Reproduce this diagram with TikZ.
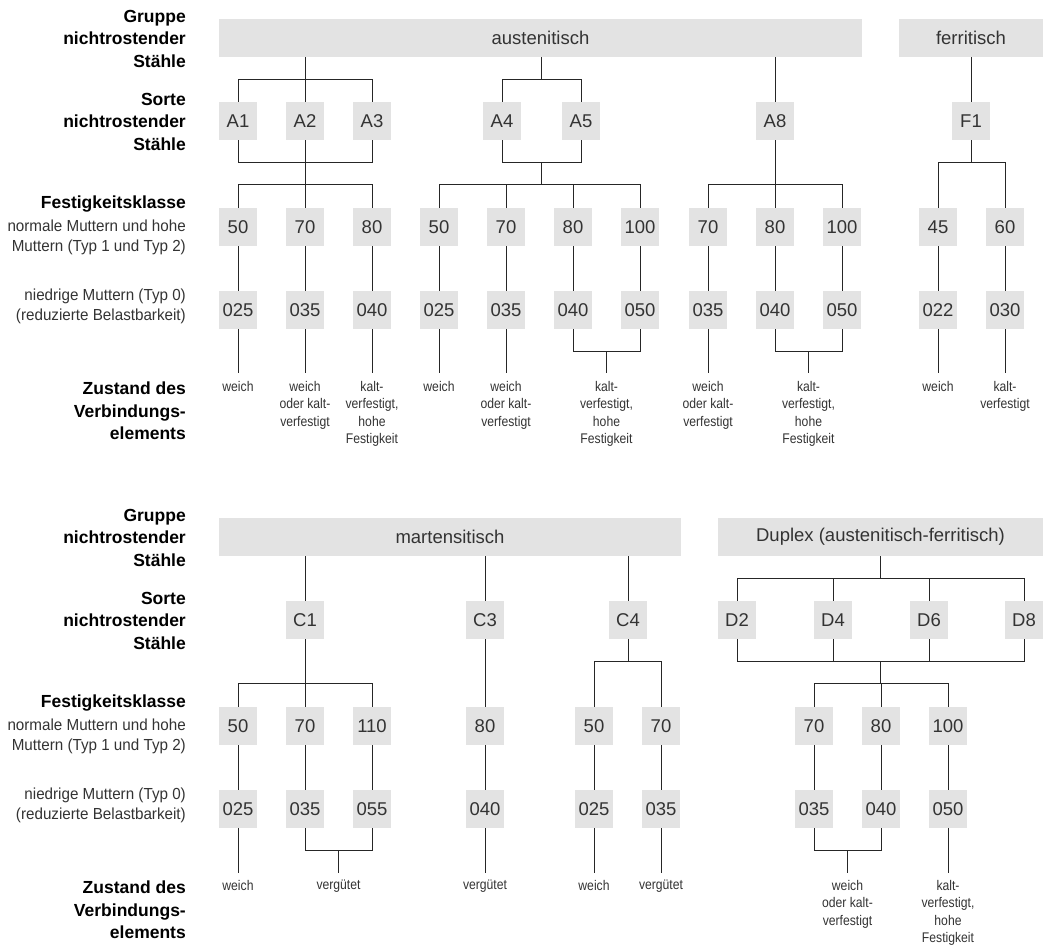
\documentclass[tikz,border=0pt]{standalone}
\usepackage{fontspec}
\setmainfont{Liberation Sans}
\newfontfamily\condfont{Liberation Sans}[FakeStretch=0.87]
\newfontfamily\subfont{Liberation Sans}[FakeStretch=0.95]
\usetikzlibrary{calc}
\definecolor{boxgray}{HTML}{E3E3E3}
\definecolor{txt}{HTML}{333333}
\tikzset{
  box/.style={fill=boxgray, minimum width=38pt, minimum height=38pt, inner sep=0pt,
    font=\fontsize{18.5}{22}\selectfont, text=txt},
  bar/.style={fill=boxgray, minimum height=38pt, inner sep=0pt,
    font=\fontsize{18.5}{22}\selectfont, text=txt},
  state/.style={anchor=north, align=center, inner sep=0pt,
    font=\condfont\fontsize{14}{17.5}\selectfont, text=txt},
  hdr/.style={anchor=north east, align=right, inner sep=0pt,
    font=\bfseries\fontsize{17.5}{22.5}\selectfont, text=black},
  sub/.style={anchor=north east, align=right, inner sep=0pt,
    font=\subfont\fontsize{16}{20}\selectfont, text=txt},
  conn/.style={line width=0.8pt, draw=black!85}
}
\begin{document}
\begin{tikzpicture}[x=1pt,y=-1pt]
\useasboundingbox (0,0) rectangle (1043,947);
% ---------- left labels ----------
\foreach \o/\s in {0/t,499/b}{
  \node[hdr] (lg\s) at (186,10+\o) {Gruppe\\nichtrostender\\Stähle};
  \node[hdr] (ls\s) at (186,93+\o) {Sorte\\nichtrostender\\Stähle};
  \node[hdr] (lf\s) at (186,196+\o) {Festigkeitsklasse};
  \node[sub] (ln\s) at (186,220+\o) {normale Muttern und hohe\\Muttern (Typ 1 und Typ 2)};
  \node[sub] (ll\s) at (186,289+\o) {niedrige Muttern (Typ 0)\\(reduzierte Belastbarkeit)};
  \node[hdr] (lz\s) at (186,382+\o) {Zustand des\\Verbindungs-\\elements};
}
% ---------- top section ----------
\node[bar, minimum width=643pt] (aus) at (540.5,38) {austenitisch};
\node[bar, minimum width=144pt] (fer) at (971,38) {ferritisch};
\foreach \n/\x in {A1/238,A2/305,A3/372,A4/502,A5/581,A8/775,F1/971}
  \node[box] (\n) at (\x,121) {\n};
\foreach \n/\x/\t in {a50/238/50,a70/305/70,a80/372/80,b50/439/50,b70/506/70,b80/573/80,b100/640/100,
  c70/708/70,c80/775/80,c100/842/100,f45/938/45,f60/1005/60}
  \node[box] (\n) at (\x,227) {\t};
\foreach \n/\x/\t in {p50/238/025,p70/305/035,p80/372/040,q50/439/025,q70/506/035,q80/573/040,q100/640/050,
  r70/708/035,r80/775/040,r100/842/050,s45/938/022,s60/1005/030}
  \node[box] (\n) at (\x,310) {\t};
\coordinate (j45) at ($(A4)!0.5!(A5)$);
% group -> sorte
\draw[conn] (A2|-aus.south) -- (A2.north);
\draw[conn] (A1.north) -- (A1|-0,79) -- (A3|-0,79) -- (A3.north);
\draw[conn] (j45|-aus.south) -- (j45|-0,79);
\draw[conn] (A4.north) -- (A4|-0,79) -- (A5|-0,79) -- (A5.north);
\draw[conn] (A8|-aus.south) -- (A8.north);
\draw[conn] (fer.south) -- (F1.north);
% sorte -> festigkeit
\draw[conn] (A1.south) -- (A1|-0,162) -- (A3|-0,162) -- (A3.south);
\draw[conn] (A2.south) -- (a70.north);
\draw[conn] (a50.north) -- (a50|-0,184) -- (a80|-0,184) -- (a80.north);
\draw[conn] (A4.south) -- (A4|-0,162) -- (A5|-0,162) -- (A5.south);
\draw[conn] (j45|-0,162) -- (j45|-0,184);
\draw[conn] (b50.north) -- (b50|-0,184) -- (b100|-0,184) -- (b100.north);
\draw[conn] (b70.north) -- (b70|-0,184);
\draw[conn] (b80.north) -- (b80|-0,184);
\draw[conn] (A8.south) -- (c80.north);
\draw[conn] (c70.north) -- (c70|-0,184) -- (c100|-0,184) -- (c100.north);
\draw[conn] (F1.south) -- (F1|-0,162);
\draw[conn] (f45.north) -- (f45|-0,162) -- (f60|-0,162) -- (f60.north);
% festigkeit -> niedrige
\foreach \a/\b in {a50/p50,a70/p70,a80/p80,b50/q50,b70/q70,b80/q80,b100/q100,c70/r70,c80/r80,c100/r100,f45/s45,f60/s60}
  \draw[conn] (\a.south) -- (\b.north);
% niedrige -> zustand
\coordinate (jq) at ($(q80)!0.5!(q100)$);
\coordinate (jr) at ($(r80)!0.5!(r100)$);
\foreach \n in {p50,p70,p80,q50,q70,r70,s45,s60}
  \draw[conn] (\n.south) -- (\n|-0,373);
\draw[conn] (q80.south) -- (q80|-0,351) -- (q100|-0,351) -- (q100.south);
\draw[conn] (jq|-0,351) -- (jq|-0,373);
\draw[conn] (r80.south) -- (r80|-0,351) -- (r100|-0,351) -- (r100.south);
\draw[conn] (jr|-0,351) -- (jr|-0,373);
\node[state] (z1) at (p50|-0,381) {weich};
\node[state] (z2) at (p70|-0,381) {weich\\oder kalt-\\verfestigt};
\node[state] (z3) at (p80|-0,381) {kalt-\\verfestigt,\\hohe\\Festigkeit};
\node[state] (z4) at (q50|-0,381) {weich};
\node[state] (z5) at (q70|-0,381) {weich\\oder kalt-\\verfestigt};
\node[state] (z6) at (jq|-0,381) {kalt-\\verfestigt,\\hohe\\Festigkeit};
\node[state] (z7) at (r70|-0,381) {weich\\oder kalt-\\verfestigt};
\node[state] (z8) at (jr|-0,381) {kalt-\\verfestigt,\\hohe\\Festigkeit};
\node[state] (z9) at (s45|-0,381) {weich};
\node[state] (z10) at (s60|-0,381) {kalt-\\verfestigt};
% ---------- bottom section ----------
\node[bar, minimum width=462pt] (mar) at (450,537) {martensitisch};
\node[bar, minimum width=325pt] (dup) at (880.5,537) {Duplex (austenitisch-ferritisch)};
\foreach \n/\x in {C1/305,C3/485,C4/628,D2/737,D4/833,D6/929,D8/1024}
  \node[box] (\n) at (\x,620) {\n};
\foreach \n/\x/\t in {m50/238/50,m70/305/70,m110/372/110,m80/485/80,n50/594/50,n70/661/70,
  d70/814/70,d80/881/80,d100/948/100}
  \node[box] (\n) at (\x,726) {\t};
\foreach \n/\x/\t in {k50/238/025,k70/305/035,k110/372/055,k80/485/040,o50/594/025,o70/661/035,
  e70/814/035,e80/881/040,e100/948/050}
  \node[box] (\n) at (\x,809) {\t};
% group -> sorte
\draw[conn] (C1|-mar.south) -- (C1.north);
\draw[conn] (C3|-mar.south) -- (C3.north);
\draw[conn] (C4|-mar.south) -- (C4.north);
\draw[conn] (dup.south) -- (dup|-0,578);
\draw[conn] (D2.north) -- (D2|-0,578) -- (D8|-0,578) -- (D8.north);
\draw[conn] (D4.north) -- (D4|-0,578);
\draw[conn] (D6.north) -- (D6|-0,578);
% sorte -> festigkeit
\draw[conn] (C1.south) -- (m70.north);
\draw[conn] (m50.north) -- (m50|-0,683) -- (m110|-0,683) -- (m110.north);
\draw[conn] (C3.south) -- (m80.north);
\draw[conn] (C4.south) -- (C4|-0,661);
\draw[conn] (n50.north) -- (n50|-0,661) -- (n70|-0,661) -- (n70.north);
\draw[conn] (D2.south) -- (D2|-0,661) -- (D8|-0,661) -- (D8.south);
\draw[conn] (D4.south) -- (D4|-0,661);
\draw[conn] (D6.south) -- (D6|-0,661);
\draw[conn] (dup|-0,661) -- (dup|-0,683);
\draw[conn] (d70.north) -- (d70|-0,683) -- (d100|-0,683) -- (d100.north);
\draw[conn] (d80.north) -- (d80|-0,683);
% festigkeit -> niedrige
\foreach \a/\b in {m50/k50,m70/k70,m110/k110,m80/k80,n50/o50,n70/o70,d70/e70,d80/e80,d100/e100}
  \draw[conn] (\a.south) -- (\b.north);
% niedrige -> zustand
\coordinate (jk) at ($(k70)!0.5!(k110)$);
\coordinate (je) at ($(e70)!0.5!(e80)$);
\foreach \n in {k50,k80,o50,o70,e100}
  \draw[conn] (\n.south) -- (\n|-0,873);
\draw[conn] (k70.south) -- (k70|-0,850) -- (k110|-0,850) -- (k110.south);
\draw[conn] (jk|-0,850) -- (jk|-0,873);
\draw[conn] (e70.south) -- (e70|-0,850) -- (e80|-0,850) -- (e80.south);
\draw[conn] (je|-0,850) -- (je|-0,873);
\node[state] (y1) at (k50|-0,880) {weich};
\node[state] (y2) at (jk|-0,880) {vergütet};
\node[state] (y3) at (k80|-0,880) {vergütet};
\node[state] (y4) at (o50|-0,880) {weich};
\node[state] (y5) at (o70|-0,880) {vergütet};
\node[state] (y6) at (je|-0,880) {weich\\oder kalt-\\verfestigt};
\node[state] (y7) at (e100|-0,880) {kalt-\\verfestigt,\\hohe\\Festigkeit};
\end{tikzpicture}
\end{document}
